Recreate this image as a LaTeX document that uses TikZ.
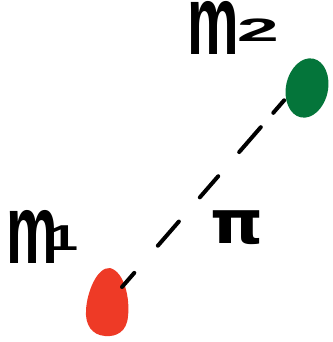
\documentclass[tikz,border=0pt]{standalone}
\usepackage{fontspec}
\setmainfont{Liberation Sans}
\newfontfamily\symfont{DejaVu Sans}
\definecolor{massred}{HTML}{EE3A26}
\definecolor{massgreen}{HTML}{04753A}
\begin{document}
\begin{tikzpicture}[x=1pt,y=-1pt,
  mlab/.style={inner sep=0pt, anchor=base west, text height=30pt, text depth=0pt,
    font=\bfseries\fontsize{58}{58}\selectfont, yscale=1.7},
  sublab/.style={inner sep=0pt, anchor=base, text height=25pt, text depth=0pt,
    font=\bfseries\fontsize{36}{36}\selectfont},
  dashline/.style={line width=4pt, line cap=round,
    dash pattern=on 18.7pt off 36pt on 32pt off 32pt on 28pt off 32pt on 33pt off 19pt on 16.6pt off 100pt}]
\useasboundingbox (0,0) rectangle (332,342);
% masses
\fill[massred] (110,268) .. controls (125,272) and (130,300) .. (128,316)
  .. controls (127,332) and (116,337) .. (105,336)
  .. controls (92,335) and (85,325) .. (86,310)
  .. controls (87,292) and (97,267) .. (110,268) -- cycle;
\fill[massgreen, rotate around={-12:(307,88)}] (307,88) ellipse [x radius=21, y radius=30];
\coordinate (a) at (122,287);
\coordinate (b) at (287,97);
\draw[dashline] (a) -- (b);
% labels
\node[mlab] (m1) at (10,263) {\kern-3.7pt m\kern-3.7pt};
\node[sublab, xscale=1.5] (m1s) at (64,250) {\kern-3pt 1\kern-3pt};
\node[mlab] (m2) at (191,55) {\kern-3.7pt m\kern-3.7pt};
\node[sublab, xscale=2.1, yscale=0.9] (m2s) at (258,42) {\kern-1.5pt 2\kern-1.5pt};
\node[inner sep=0pt, anchor=base, xscale=1.12, font=\symfont\bfseries\fontsize{60}{60}\selectfont] (pi) at (237,243) {π};
\end{tikzpicture}
\end{document}
